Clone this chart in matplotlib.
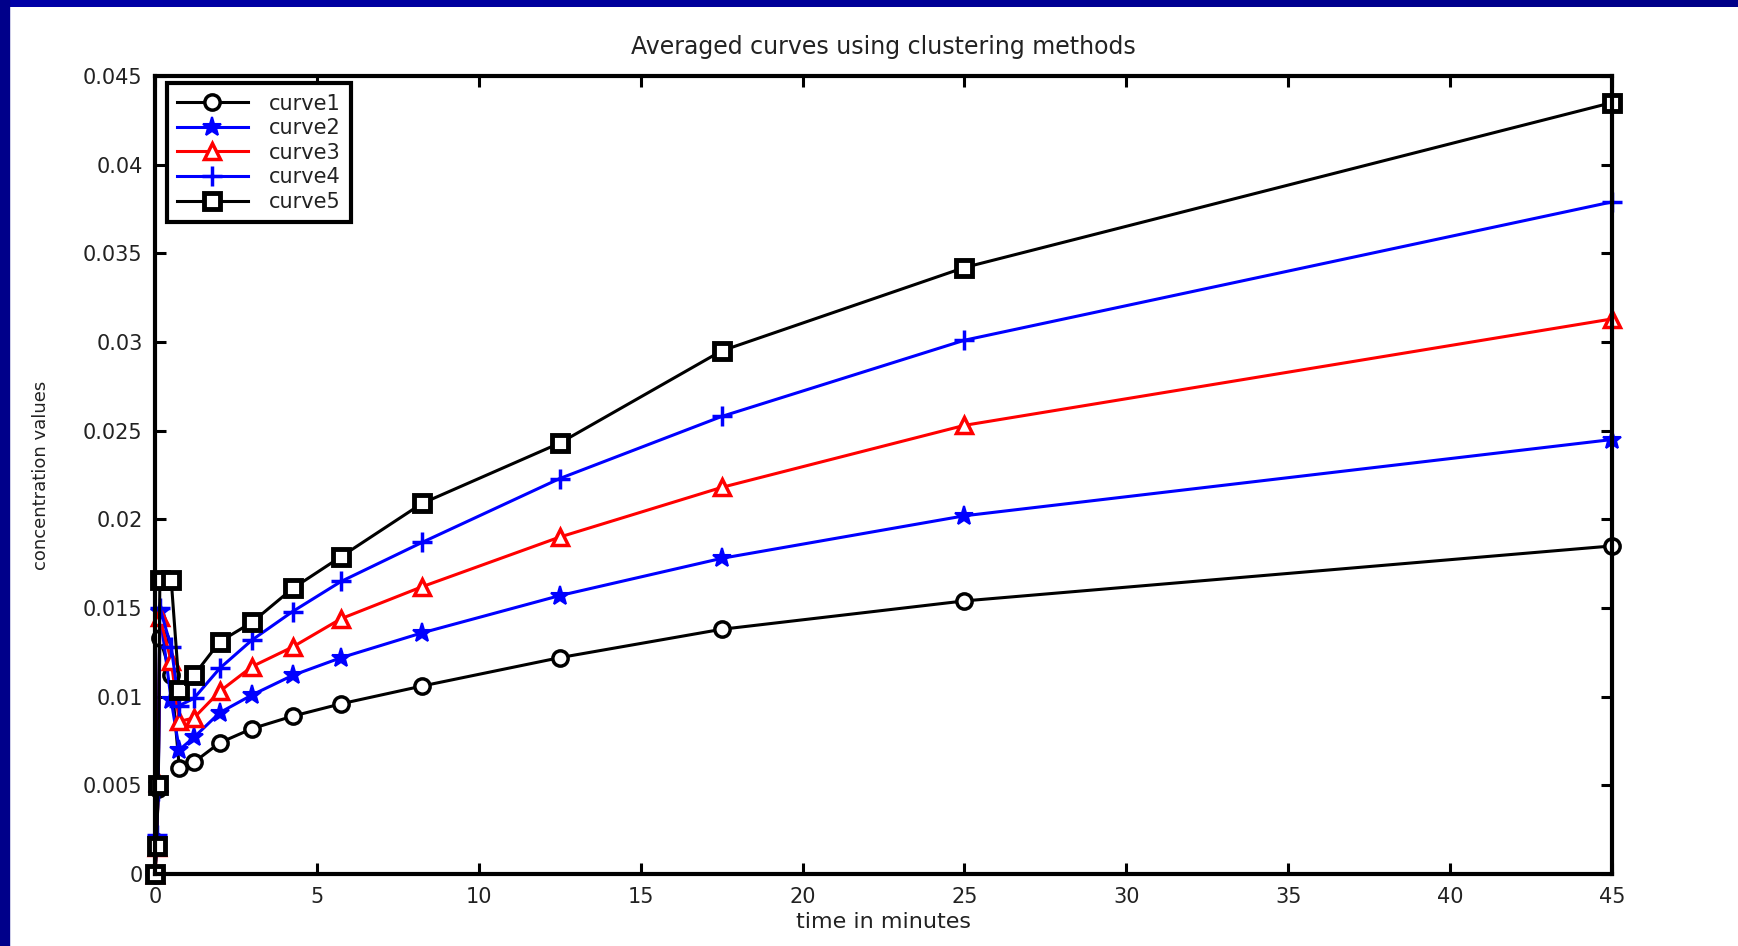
import numpy as np
import matplotlib
matplotlib.use("Agg")
import matplotlib.pyplot as plt
from matplotlib.patches import Rectangle
from matplotlib.colors import LinearSegmentedColormap

# time points (minutes)
t = [0, 0.05, 0.1, 0.15, 0.5, 0.75, 1.2, 2, 3, 4.25, 5.75, 8.25, 12.5, 17.5, 25, 45]

curve1 = [0, 0.0018, 0.0048, 0.0133, 0.0112, 0.0060, 0.0063, 0.0074, 0.0082, 0.0089,
          0.0096, 0.0106, 0.0122, 0.0138, 0.0154, 0.0185]
curve2 = [0, 0.0020, 0.0050, 0.0148, 0.0098, 0.0070, 0.0077, 0.0091, 0.0101, 0.0112,
          0.0122, 0.0136, 0.0157, 0.0178, 0.0202, 0.0245]
curve3 = [0, 0.0015, 0.0052, 0.0145, 0.0120, 0.0086, 0.0088, 0.0103, 0.0117, 0.0128,
          0.0144, 0.0162, 0.0190, 0.0218, 0.0253, 0.0313]
curve4 = [0, 0.0022, 0.0047, 0.0150, 0.0128, 0.0095, 0.0099, 0.0116, 0.0132, 0.0148,
          0.0165, 0.0187, 0.0223, 0.0258, 0.0301, 0.0379]
curve5 = [0, 0.0016, 0.0050, 0.0166, 0.0166, 0.0104, 0.0112, 0.0131, 0.0142, 0.0161,
          0.0179, 0.0209, 0.0243, 0.0295, 0.0342, 0.0435]

labels = ["curve1", "curve2", "curve3", "curve4", "curve5"]
xticks = [0, 5, 10, 15, 20, 25, 30, 35, 40, 45]
yticks = [0, 0.005, 0.01, 0.015, 0.02, 0.025, 0.03, 0.035, 0.04, 0.045]
ytick_labels = ["0", "0.005", "0.01", "0.015", "0.02", "0.025", "0.03", "0.035", "0.04", "0.045"]

W, H = 1738, 946
fig = plt.figure(figsize=(W / 100, H / 100), dpi=100)
fig.patch.set_facecolor("white")

# dark blue slide border (top and left)
band = fig.add_axes([0, 1 - 7 / H, 1, 7 / H])
cmap = LinearSegmentedColormap.from_list("band", ["#0000A8", "#000088"])
band.imshow(np.linspace(0, 1, 256)[None, :], aspect="auto", cmap=cmap)
band.axis("off")
fig.patches.append(Rectangle((0, 0), 9 / W, 1, transform=fig.transFigure,
                             color="#00008A", zorder=5))

ax = fig.add_axes([155 / W, 1 - 874 / H, (1612 - 155) / W, (874 - 76) / H])

styles = [
    dict(color="black", marker="o", mfc="white", mec="black", ms=11, mew=2.5),
    dict(color="#0000FF", marker="*", mfc="#0000FF", mec="#0000FF", ms=14, mew=1.5),
    dict(color="#FF0000", marker="^", mfc="white", mec="#FF0000", ms=12, mew=2.5),
    dict(color="#0000FF", marker="+", ms=15, mew=2.5),
    dict(color="black", marker="s", mfc="white", mec="black", ms=11, mew=3.5),
]
for y, lab, st in zip([curve1, curve2, curve3, curve4, curve5], labels, styles):
    ax.plot(t, y, lw=2.2, label=lab, clip_on=False, **st)

ax.set_xlim(0, 45)
ax.set_ylim(0, 0.045)
ax.set_xticks(xticks)
ax.set_xticklabels([str(v) for v in xticks])
ax.set_yticks(yticks)
ax.set_yticklabels(ytick_labels)

txt_color = "#222222"
ax.tick_params(direction="in", length=8, width=2.2, top=True, right=True,
               labelsize=15, labelcolor=txt_color)
ax.tick_params(axis="x", pad=9)
ax.tick_params(axis="y", pad=9)
for s in ax.spines.values():
    s.set_linewidth(3)

ax.set_title("Averaged curves using clustering methods", fontsize=17,
             color=txt_color, pad=16)
ax.set_xlabel("time in minutes", fontsize=16, color=txt_color, labelpad=4)
ax.set_ylabel("concentration values", fontsize=13, color=txt_color, labelpad=24)

leg = ax.legend(loc="upper left", bbox_to_anchor=(0.008, 0.991), borderaxespad=0,
                fontsize=15, handlelength=3.4, handletextpad=1.0, labelspacing=0.22,
                borderpad=0.5, fancybox=False, framealpha=1, edgecolor="black")
leg.get_frame().set_linewidth(3)
for txt in leg.get_texts():
    txt.set_color(txt_color)

fig.savefig("out.png", dpi=100)
